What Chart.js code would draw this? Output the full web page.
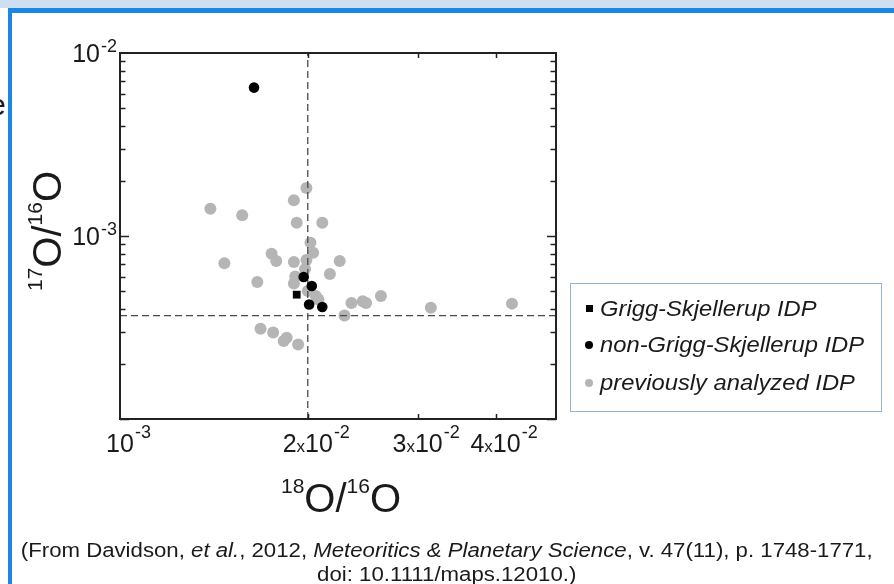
<!DOCTYPE html>
<html>
<head>
<meta charset="utf-8">
<script src="https://cdn.jsdelivr.net/npm/chart.js@4.4.0/dist/chart.umd.min.js"></script>
<style>
  html, body { margin: 0; padding: 0; background: #fff; }
  #page { position: relative; width: 894px; height: 584px; overflow: hidden; font-family: 'Liberation Sans', Arial, sans-serif; color: #1a1a1a; }
  #topbar { position: absolute; left: 0; top: 0; width: 894px; height: 8px; background: #cde0f1; }
  #topline { position: absolute; left: 8px; top: 8px; width: 886px; height: 5px; background: #1b87e2; }
  #leftline { position: absolute; left: 8px; top: 8px; width: 4px; height: 576px; background: #1b87e2; }
  #cut { position: absolute; left: -11px; top: 88px; font-size: 30px; }
  #chart { position: absolute; left: 0; top: 0; }
  #legend { position: absolute; left: 570px; top: 283px; width: 310px; height: 127px; border: 1.5px solid #94b5cd; }
  #legend .item { position: absolute; left: 0; height: 30px; line-height: 30px; font-style: italic; font-size: 22px; white-space: nowrap; }
  #legend .mark { position: absolute; }
  #legend .txt { position: absolute; left: 29px; top: 0; transform: scaleX(1.08); transform-origin: left center; }
  #caption { position: absolute; left: 0; top: 538px; width: 894px; text-align: center; font-size: 20px; line-height: 24px; }
  #caption div { display: inline-block; transform: scaleX(1.11); transform-origin: center; }
</style>
</head>
<body>
<div id="page">
  <div id="topbar"></div>
  <div id="topline"></div>
  <div id="leftline"></div>
  <div id="cut">e</div>
  <canvas id="chart" width="894" height="584"></canvas>
  <div id="legend"></div>
  <div id="caption"><div>(From Davidson, <i>et al.</i>, 2012, <i>Meteoritics &amp; Planetary Science</i>, v. 47(11), p. 1748-1771,<br>doi: 10.1111/maps.12010.)</div></div>
</div>
<script>
/* ~~~~~~~~~~ DATA ~~~~~~~~~~*/

const seriesNames = ['Grigg-Skjellerup IDP', 'non-Grigg-Skjellerup IDP', 'previously analyzed IDP'];

// 18O/16O (x) and 17O/16O (y)
const gsX = [0.0192];
const gsY = [4.78e-4];

const nonGsX = [0.0164, 0.0197, 0.0203, 0.0201, 0.0211];
const nonGsY = [6.47e-3, 5.97e-4, 5.33e-4, 4.22e-4, 4.09e-4];

const prevX = [0.0199, 0.0190, 0.01396, 0.0157, 0.0192, 0.0211, 0.0202, 0.0204, 0.0175, 0.0178,
  0.0147, 0.0190, 0.0199, 0.0225, 0.0198, 0.0217, 0.0166, 0.0191, 0.0190, 0.0206,
  0.0235, 0.0245, 0.0248, 0.0262, 0.0315, 0.0425, 0.0229, 0.0168, 0.0176, 0.0185,
  0.0183, 0.0193, 0.0200, 0.0208];
const prevY = [1.83e-3, 1.57e-3, 1.41e-3, 1.30e-3, 1.18e-3, 1.18e-3, 9.2e-4, 8.1e-4, 8.0e-4, 7.3e-4,
  7.1e-4, 7.2e-4, 7.4e-4, 7.3e-4, 6.6e-4, 6.2e-4, 5.6e-4, 6.0e-4, 5.5e-4, 4.7e-4,
  4.3e-4, 4.4e-4, 4.3e-4, 4.7e-4, 4.06e-4, 4.27e-4, 3.68e-4, 3.11e-4, 2.97e-4, 2.78e-4,
  2.67e-4, 2.55e-4, 5.0e-4, 4.5e-4];

// dashed reference lines
const refX = 0.02;
const refY = 3.67e-4;

// axis ranges and tick labels
const xRange = [0.01, 0.05];
const yRange = [1e-4, 1e-2];
const xTickValues = [0.01, 0.02, 0.03, 0.04];
const xTickMant = ['', '2', '3', '4'];
const xTickExp = ['-3', '-2', '-2', '-2'];
const yTickValues = [1e-2, 1e-3];
const yTickExp = ['-2', '-3'];

const GRAY = '#b5b5b5';
const FONT = '"Liberation Sans", Arial, sans-serif';

/* ~~~~~~~~~~ HELPERS ~~~~~~~~~~*/

const toPoints = (xs, ys) => xs.map((x, i) => ({ x: x, y: ys[i] }));

// frame, inward ticks, tick labels and axis titles
const axisArt = {
  id: 'axisArt',
  afterDraw(chart) {
    const { ctx, chartArea: a } = chart;
    const x = chart.scales.x;
    const y = chart.scales.y;
    ctx.save();
    ctx.strokeStyle = '#222';
    ctx.fillStyle = '#1a1a1a';

    // y ticks: major at decades, minor at 2..9
    ctx.lineWidth = 1.5;
    ctx.beginPath();
    for (let d = Math.log10(yRange[0]); d < Math.log10(yRange[1]); d++) {
      for (let m = 1; m < 10; m++) {
        const py = Math.round(y.getPixelForValue(m * Math.pow(10, d))) + 0.5;
        const len = m === 1 ? 9 : 5.5;
        ctx.moveTo(a.left, py); ctx.lineTo(a.left + len, py);
        ctx.moveTo(a.right, py); ctx.lineTo(a.right - len, py);
      }
    }
    // x ticks
    xTickValues.slice(1).forEach(v => {
      const px = Math.round(x.getPixelForValue(v)) + 0.5;
      ctx.moveTo(px, a.bottom); ctx.lineTo(px, a.bottom - 5);
      ctx.moveTo(px, a.top); ctx.lineTo(px, a.top + 5);
    });
    ctx.stroke();

    // frame
    ctx.lineWidth = 2;
    ctx.strokeRect(a.left, a.top, a.right - a.left, a.bottom - a.top);

    const big = '25px ' + FONT;
    const mid = '17px ' + FONT;
    const sup = '18px ' + FONT;

    // x tick labels
    ctx.textAlign = 'left';
    ctx.textBaseline = 'alphabetic';
    xTickValues.forEach((v, i) => {
      const px = x.getPixelForValue(v);
      const mant = xTickMant[i];
      ctx.font = big;
      const wm = mant ? ctx.measureText(mant).width : 0;
      const w10 = ctx.measureText('10').width;
      ctx.font = mid;
      const wx = mant ? ctx.measureText('x').width : 0;
      let cx = px - (wm + wx + w10) / 2;
      const base = a.bottom + 33;
      ctx.font = big;
      if (mant) { ctx.fillText(mant, cx, base); cx += wm; ctx.font = mid; ctx.fillText('x', cx, base); cx += wx; ctx.font = big; }
      ctx.fillText('10', cx, base); cx += w10;
      ctx.font = sup;
      ctx.fillText(xTickExp[i], cx + 1, base - 14);
    });

    // y tick labels
    yTickValues.forEach((v, i) => {
      const py = y.getPixelForValue(v);
      ctx.font = sup;
      const we = ctx.measureText(yTickExp[i]).width;
      ctx.font = big;
      const w10 = ctx.measureText('10').width;
      const right = a.left - 3;
      ctx.fillText('10', right - we - w10 - 1, py + 9);
      ctx.font = sup;
      ctx.fillText(yTickExp[i], right - we, py - 1);
    });

    // axis titles with superscripts
    const drawIso = (parts, cx, base) => {
      const fonts = ['21px ' + FONT, '40px ' + FONT];
      let w = 0;
      parts.forEach(p => { ctx.font = fonts[p[1]]; w += ctx.measureText(p[0]).width; });
      let px = cx - w / 2;
      parts.forEach(p => {
        ctx.font = fonts[p[1]];
        ctx.fillText(p[0], px, p[1] ? base : base - 19);
        px += ctx.measureText(p[0]).width;
      });
    };
    drawIso([['18', 0], ['O/', 1], ['16', 0], ['O', 1]], (a.left + a.right) / 2 + 3, a.bottom + 93);
    ctx.save();
    ctx.translate(a.left - 59, (a.top + a.bottom) / 2 - 5);
    ctx.rotate(-Math.PI / 2);
    drawIso([['17', 0], ['O/', 1], ['16', 0], ['O', 1]], 0, 0);
    ctx.restore();

    ctx.restore();
  }
};

/* ~~~~~~~~~~ CHART ~~~~~~~~~~*/

const ctx = document.getElementById('chart').getContext('2d');

const chart = new Chart(ctx, {
  type: 'scatter',
  data: {
    datasets: [
      {
        label: seriesNames[0],
        data: toPoints(gsX, gsY),
        pointStyle: 'rect',
        pointRadius: 5.5,
        backgroundColor: '#000',
        borderWidth: 0,
        order: 0,
      },
      {
        label: seriesNames[1],
        data: toPoints(nonGsX, nonGsY),
        pointRadius: 5.3,
        backgroundColor: '#000',
        borderWidth: 0,
        order: 1,
      },
      {
        label: 'ref x',
        data: [{ x: refX, y: yRange[0] }, { x: refX, y: yRange[1] }],
        showLine: true,
        borderColor: '#4a4a4a',
        borderWidth: 1.3,
        borderDash: [7, 4],
        pointRadius: 0,
        order: 2,
      },
      {
        label: 'ref y',
        data: [{ x: xRange[0], y: refY }, { x: xRange[1], y: refY }],
        showLine: true,
        borderColor: '#4a4a4a',
        borderWidth: 1.3,
        borderDash: [7, 4],
        pointRadius: 0,
        order: 2,
      },
      {
        label: seriesNames[2],
        data: toPoints(prevX, prevY),
        pointRadius: 6,
        backgroundColor: GRAY,
        borderWidth: 0,
        order: 3,
      },
    ],
  },
  options: {
    responsive: false,
    animation: false,
    layout: { padding: { left: 120, top: 53, right: 338, bottom: 165 } },
    plugins: {
      legend: { display: false },
      tooltip: { enabled: false },
    },
    scales: {
      x: { type: 'logarithmic', min: xRange[0], max: xRange[1], display: false },
      y: { type: 'logarithmic', min: yRange[0], max: yRange[1], display: false },
    },
  },
  plugins: [axisArt],
});

/* ~~~~~~~~~~ LEGEND ~~~~~~~~~~*/

const legendMarks = [
  'left:15px; top:11px; width:7px; height:7px; background:#000;',
  'left:14px; top:11px; width:8px; height:8px; border-radius:50%; background:#000;',
  'left:14px; top:11px; width:8px; height:8px; border-radius:50%; background:' + GRAY + ';',
];
const legendTops = [10, 46, 84];
const legendBox = document.getElementById('legend');
seriesNames.forEach((name, i) => {
  const item = document.createElement('div');
  item.className = 'item';
  item.style.top = legendTops[i] + 'px';
  item.innerHTML = '<span class="mark" style="' + legendMarks[i] + '"></span><span class="txt">' + name + '</span>';
  legendBox.appendChild(item);
});
</script>
</body>
</html>
